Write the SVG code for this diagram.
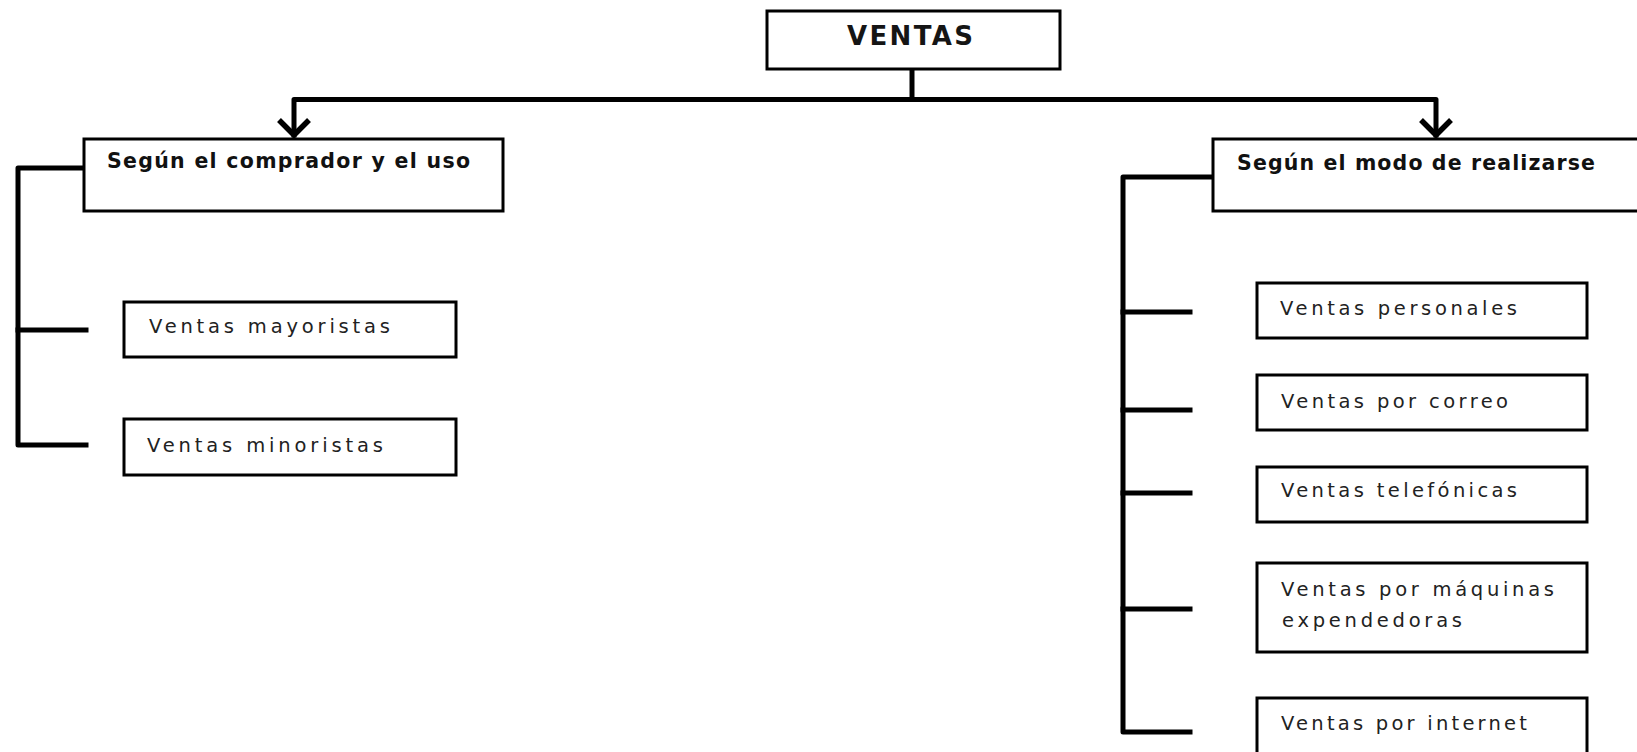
<svg xmlns="http://www.w3.org/2000/svg" width="1637" height="752" viewBox="0 0 1637 752">
  <style>
    .box { fill: #ffffff; stroke: #000000; stroke-width: 3; }
    .wire { fill: none; stroke: #000000; stroke-width: 5; stroke-linecap: square; stroke-linejoin: round; }
    .head { fill: none; stroke: #000000; stroke-width: 5.5; stroke-linejoin: miter; stroke-linecap: butt; }
    .title { font-family: "DejaVu Sans", "Liberation Sans", sans-serif; font-weight: bold; font-size: 26px; fill: #151515; }
    .group { font-family: "DejaVu Sans", "Liberation Sans", sans-serif; font-weight: bold; font-size: 20.5px; fill: #111111; }
    .item { font-family: "DejaVu Sans", "Liberation Sans", sans-serif; font-size: 19.5px; fill: #222222; }
  </style>
  <rect width="1637" height="752" fill="#ffffff"/>

  <g id="connectors">
    <!-- root stem and top rail -->
    <path class="wire" d="M912,69 V99.5"/>
    <path class="wire" d="M294,135 V99.5 H1436 V135"/>
    <!-- arrowheads -->
    <path class="head" d="M279,120 L294,135 L309,120"/>
    <path class="head" d="M1421,120 L1436,135 L1451,120"/>
    <!-- left bracket -->
    <path class="wire" d="M84,168 H18 V445 H86"/>
    <path class="wire" d="M18,330 H86"/>
    <!-- right bracket -->
    <path class="wire" d="M1213,177 H1123 V732 H1190"/>
    <path class="wire" d="M1123,312 H1190"/>
    <path class="wire" d="M1123,410 H1190"/>
    <path class="wire" d="M1123,493 H1190"/>
    <path class="wire" d="M1123,609 H1190"/>
  </g>

  <g id="ventas">
    <rect class="box" x="767" y="11" width="293" height="58"/>
    <text class="title" x="847" y="45" textLength="126" lengthAdjust="spacing">VENTAS</text>
  </g>

  <g id="segun-comprador">
    <rect class="box" x="84" y="139" width="419" height="72"/>
    <text class="group" x="107" y="168" textLength="363" lengthAdjust="spacing">Según el comprador y el uso</text>
  </g>

  <g id="ventas-mayoristas">
    <rect class="box" x="124" y="302" width="332" height="55"/>
    <text class="item" x="149" y="333" textLength="241" lengthAdjust="spacing">Ventas mayoristas</text>
  </g>

  <g id="ventas-minoristas">
    <rect class="box" x="124" y="419" width="332" height="56"/>
    <text class="item" x="147" y="452" textLength="236" lengthAdjust="spacing">Ventas minoristas</text>
  </g>

  <g id="segun-modo">
    <rect class="box" x="1213" y="139" width="430" height="72"/>
    <text class="group" x="1237" y="170" textLength="358" lengthAdjust="spacing">Según el modo de realizarse</text>
  </g>

  <g id="ventas-personales">
    <rect class="box" x="1257" y="283" width="330" height="55"/>
    <text class="item" x="1280" y="315" textLength="237" lengthAdjust="spacing">Ventas personales</text>
  </g>

  <g id="ventas-correo">
    <rect class="box" x="1257" y="375" width="330" height="55"/>
    <text class="item" x="1281" y="408" textLength="227" lengthAdjust="spacing">Ventas por correo</text>
  </g>

  <g id="ventas-telefonicas">
    <rect class="box" x="1257" y="467" width="330" height="55"/>
    <text class="item" x="1281" y="497" textLength="236" lengthAdjust="spacing">Ventas telefónicas</text>
  </g>

  <g id="ventas-maquinas">
    <rect class="box" x="1257" y="563" width="330" height="89"/>
    <text class="item" x="1281" y="596" textLength="273" lengthAdjust="spacing">Ventas por máquinas</text>
    <text class="item" x="1282" y="627" textLength="180" lengthAdjust="spacing">expendedoras</text>
  </g>

  <g id="ventas-internet">
    <rect class="box" x="1257" y="698" width="330" height="70"/>
    <text class="item" x="1281" y="730" textLength="246" lengthAdjust="spacing">Ventas por internet</text>
  </g>
</svg>
